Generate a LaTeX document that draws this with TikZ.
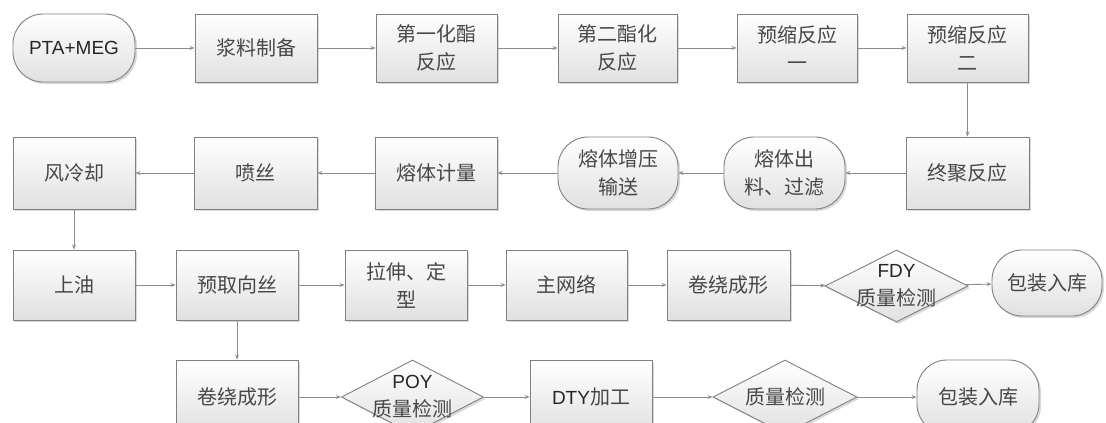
\documentclass[tikz,border=0pt]{standalone}
\usepackage{fontspec}
\setmainfont{Noto Sans CJK SC}
\newfontfamily\lat{Liberation Sans}
\usetikzlibrary{shapes.geometric,shadows,arrows.meta}
\begin{document}
\begin{tikzpicture}[x=1pt,y=-1pt,
  base/.style={draw=black!50, line width=0.9pt, top color=white, bottom color=black!12,
    drop shadow={shadow xshift=2pt,shadow yshift=-2pt,opacity=0.15,fill=black},
    font=\fontsize{20}{28}\selectfont, text=black!72, align=center, inner sep=0pt},
  rect/.style={base, rectangle},
  stad/.style={base, rectangle, rounded corners=30pt},
  dia/.style={base, diamond, inner sep=0pt},
  bw/.style={minimum width=#1pt},
  bh/.style={minimum height=#1pt},
  lab/.style={font=\fontsize{20}{28}\selectfont, text=black!72, align=center},
  arr/.style={draw=black!45, line width=0.9pt, -{Stealth[length=5pt,width=4pt]}}
]
\fill[white] (0,0) rectangle (1106,423);
\useasboundingbox (0,0) rectangle (1106,423);

% Row 1
\node[stad, bw=122, bh=68] (pta) at (74,48) {\lat\fontsize{19}{24}\selectfont\color{black!85}PTA+MEG};
\node[rect, bw=122, bh=68] (jl) at (256,48) {浆料制备};
\node[rect, bw=121, bh=68] (d1) at (436.5,48) {第一化酯\\反应};
\node[rect, bw=119, bh=68] (d2) at (617.5,48) {第二酯化\\反应};
\node[rect, bw=120, bh=68] (y1) at (797,48) {预缩反应\\一};
\node[rect, bw=121, bh=68] (y2) at (967.5,48) {预缩反应\\二};

% Row 2
\node[rect, bw=122, bh=72] (fl) at (74,173) {风冷却};
\node[rect, bw=123, bh=72] (ps) at (255.5,173) {喷丝};
\node[rect, bw=122, bh=72] (jg) at (436,173) {熔体计量};
\node[stad, bw=120, bh=72] (zy) at (618,173) {熔体增压\\输送};
\node[stad, bw=121, bh=72] (cl) at (784.5,173) {熔体出\\料、过滤};
\node[rect, bw=123, bh=72] (zj) at (967.5,173) {终聚反应};

% Row 3
\node[rect, bw=122, bh=70] (sy) at (74,285) {上油};
\node[rect, bw=122, bh=70] (yq) at (237,285) {预取向丝};
\node[rect, bw=122, bh=70] (ls) at (406,285) {拉伸、定\\型};
\node[rect, bw=121, bh=70] (zw) at (566.5,285) {主网络};
\node[rect, bw=123, bh=70] (jr) at (728.5,285) {卷绕成形};
\node[dia, bw=143, bh=72, label={[lab]center:{\lat\fontsize{19}{24}\selectfont\color{black!85}FDY}\\质量检测}] (fdy) at (896.5,286) {};
\node[stad, bw=110, bh=66] (bz) at (1047,283) {包装入库};

% Row 4
\node[rect, bw=122, bh=74] (jr2) at (237,397) {卷绕成形};
\node[dia, bw=142, bh=74, label={[lab]center:{\lat\fontsize{19}{24}\selectfont\color{black!85}POY}\\质量检测}] (poy) at (412.5,397) {};
\node[rect, bw=122, bh=74] (dty) at (591,397) {{\lat\fontsize{19}{24}\selectfont\color{black!85}DTY}加工};
\node[dia, bw=144, bh=74, label={[lab]center:质量检测}] (zl) at (785,397) {};
\node[stad, bw=122, bh=74] (bz2) at (978,397) {包装入库};

% Connectors
\draw[arr] (pta) -- (jl);
\draw[arr] (jl) -- (d1);
\draw[arr] (d1) -- (d2);
\draw[arr] (d2) -- (y1);
\draw[arr] (y1) -- (y2);
\draw[arr] (y2) -- (zj);
\draw[arr] (zj) -- (cl);
\draw[arr] (cl) -- (zy);
\draw[arr] (zy) -- (jg);
\draw[arr] (jg) -- (ps);
\draw[arr] (ps) -- (fl);
\draw[arr] (fl) -- (sy);
\draw[arr] (sy) -- (yq);
\draw[arr] (yq) -- (ls);
\draw[arr] (ls) -- (zw);
\draw[arr] (zw) -- (jr);
\draw[arr] (jr) -- (fdy);
\draw[arr] (fdy) -- (bz);
\draw[arr] (yq) -- (jr2);
\draw[arr] (jr2) -- (poy);
\draw[arr] (poy) -- (dty);
\draw[arr] (dty) -- (zl);
\draw[arr] (zl) -- (bz2);
\end{tikzpicture}
\end{document}
